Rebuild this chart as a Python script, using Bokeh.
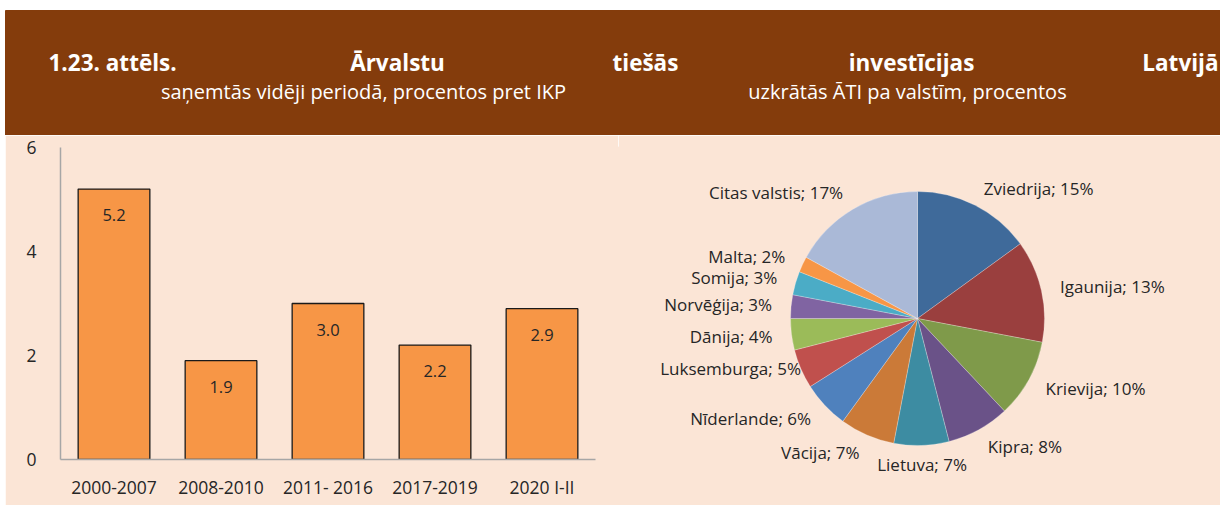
import numpy as np
from bokeh.plotting import figure
from bokeh.layouts import column, row
from bokeh.models import Range1d, FactorRange, FixedTicker, ColumnDataSource, Spacer
from bokeh.core.properties import value
from bokeh.embed import file_html
from bokeh.resources import INLINE

# ---------------- data ----------------
periods = ["2000-2007", "2008-2010", "2011- 2016", "2017-2019", "2020 I-II"]
fdi_gdp = [5.2, 1.9, 3.0, 2.2, 2.9]
y_ticks = [0, 2, 4, 6]

countries = ["Zviedrija", "Igaunija", "Krievija", "Kipra", "Lietuva", "Vācija",
             "Nīderlande", "Luksemburga", "Dānija", "Norvēģija", "Somija", "Malta",
             "Citas valstis"]
shares = [15, 13, 10, 8, 7, 7, 6, 5, 4, 3, 3, 2, 17]
slice_colors = ["#3F6A9A", "#9A3F3E", "#7F9A4A", "#6A5288", "#3D8CA2", "#CB7A38",
                "#4F81BD", "#C0504D", "#9BBB59", "#8064A2", "#4BACC6", "#F79646",
                "#AAB9D7"]

title_words = ["1.23. attēls.", "Ārvalstu", "tiešās", "investīcijas", "Latvijā"]
subtitle_left = "saņemtās vidēji periodā, procentos pret IKP"
subtitle_right = "uzkrātās ĀTI pa valstīm, procentos"

# ---------------- styles ----------------
BROWN = "#843C0C"
PEACH = "#FBE5D6"
TEXT = "#262626"
FONT = "Open Sans"
AXIS_GREY = "#A6A6A6"

W = 1220
HEAD_H = 135
BODY_H = 370
LEFT_PAD = 5
TOP_B = 12

# ---------------- header ----------------
head = figure(width=W, height=HEAD_H, x_range=Range1d(0, W), y_range=Range1d(0, HEAD_H),
              output_backend="svg", toolbar_location=None, min_border=0, title=None)
head.axis.visible = False
head.grid.visible = False
head.outline_line_color = None
head.background_fill_color = "white"
head.border_fill_color = "white"
head.quad(left=LEFT_PAD, right=W, bottom=0, top=HEAD_H - 10, color=BROWN)

title_x = [48, 397, 612, 911, 1218]
title_align = ["left", "center", "left", "center", "right"]
head.text(x=title_x, y=[73] * 5, text=title_words, text_align=title_align,
          text_baseline="middle", text_color="white", text_font=value(FONT),
          text_font_size="22.5px", text_font_style="bold")
head.text(x=[363, 907], y=[44, 44], text=[subtitle_left, subtitle_right],
          text_align="center", text_baseline="middle", text_color="white",
          text_font=value(FONT), text_font_size="20px")

# ---------------- bar chart ----------------
BAR_W = 613
bar = figure(x_range=FactorRange(*periods), y_range=Range1d(0, 6),
             frame_width=535, frame_height=312, title=None,
             min_border_left=55, min_border_right=BAR_W - 55 - 535,
             min_border_top=TOP_B, min_border_bottom=BODY_H - TOP_B - 312,
             output_backend="svg", toolbar_location=None)
bar.background_fill_color = PEACH
bar.border_fill_color = PEACH
bar.outline_line_color = PEACH
bar.outline_line_width = 2
bar.grid.visible = False
bar.vbar(x=periods, top=fdi_gdp, width=0.67, fill_color="#F79646",
         line_color="#1A1A1A", line_width=1.3)
bar.text(x=periods, y=fdi_gdp, text=["%.1f" % v for v in fdi_gdp], y_offset=26,
         text_align="center", text_baseline="middle", text_color=TEXT,
         text_font=value(FONT), text_font_size="16.5px")
bar.yaxis.ticker = FixedTicker(ticks=y_ticks)
for ax in (bar.xaxis[0], bar.yaxis[0]):
    ax.axis_line_color = AXIS_GREY
    ax.axis_line_width = 1.5
    ax.major_tick_line_color = None
    ax.minor_tick_line_color = None
    ax.major_label_text_font = FONT
    ax.major_label_text_font_size = "17.5px"
    ax.major_label_text_color = TEXT
bar.yaxis.major_label_standoff = 18
bar.xaxis.major_label_standoff = 9

# ---------------- pie chart ----------------
PW = W - LEFT_PAD - BAR_W
PH = BODY_H - TOP_B
pie = figure(frame_width=PW, frame_height=PH, x_range=Range1d(0, PW),
             y_range=Range1d(0, PH), title=None,
             output_backend="svg", toolbar_location=None,
             min_border_left=0, min_border_right=0, min_border_bottom=0,
             min_border_top=TOP_B)
pie.axis.visible = False
pie.grid.visible = False
pie.background_fill_color = PEACH
pie.border_fill_color = PEACH
pie.outline_line_color = PEACH
pie.outline_line_width = 2

cx, cy, R = 917 - LEFT_PAD - BAR_W, PH - (318 - HEAD_H - TOP_B), 127
fr = np.array(shares, dtype=float) / sum(shares)
cum = np.concatenate([[0], np.cumsum(fr)])
start = np.pi / 2 - 2 * np.pi * cum[:-1]
end = np.pi / 2 - 2 * np.pi * cum[1:]
src = ColumnDataSource(dict(start=start, end=end, color=slice_colors))
pie.wedge(x=cx, y=cy, radius=R, start_angle="start", end_angle="end", direction="clock",
          fill_color="color", line_color="white", line_alpha=0.5, line_width=0.5, source=src)

mid = 2 * np.pi * (cum[:-1] + cum[1:]) / 2  # clockwise from top
label_f = [1.0 if c == "Luksemburga" else 1.15 for c in countries]
lx = cx + R * np.array(label_f) * np.sin(mid)
ly = cy + R * np.array(label_f) * np.cos(mid)
aligns = ["left" if s > 0.15 else ("right" if s < -0.15 else "center") for s in np.sin(mid)]
labels = ["%s; %d%%" % (c, v) for c, v in zip(countries, shares)]
pie.text(x=lx, y=ly, text=labels, text_align=aligns, text_baseline="middle",
         text_color=TEXT, text_font=value(FONT), text_font_size="17px")

body = row(Spacer(width=LEFT_PAD, height=BODY_H), bar, pie, spacing=0)
layout = column(head, body, spacing=0)
open("out.html", "w").write(file_html(layout, INLINE))
